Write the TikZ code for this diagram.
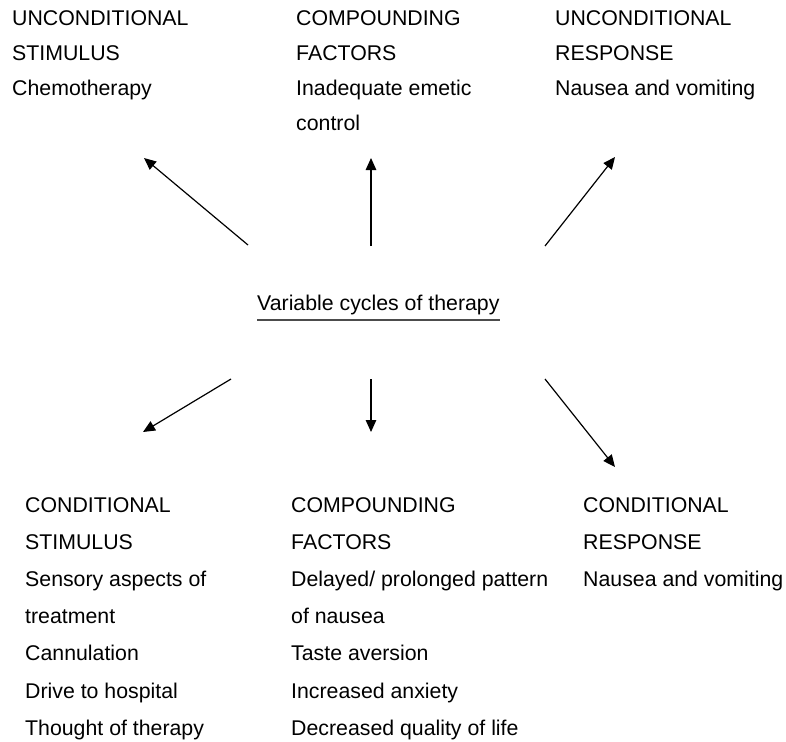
\documentclass[tikz,border=0pt]{standalone}
\usepackage{fontspec}
\setmainfont{Liberation Sans}
\usetikzlibrary{arrows.meta}

% multi-line text block; reference point = baseline of its first line
\newcommand{\linesblock}[1]{\parbox[t]{260pt}{\raggedright #1}}

\begin{document}
\begin{tikzpicture}[x=1pt,y=-1pt,
  topblock/.style={anchor=base west, inner sep=0pt, font={\fontsize{21.3}{34.7}\selectfont}},
  botblock/.style={anchor=base west, inner sep=0pt, font={\fontsize{21.3}{37.2}\selectfont}},
  centre/.style={anchor=base west, inner sep=0pt, font={\fontsize{21.3}{25}\selectfont}},
  arr/.style={line width=1.2pt, -{Triangle[length=12pt,width=10.5pt]}},
  uline/.style={line width=1.6pt, black!70}
]
\useasboundingbox (0,0) rectangle (786,741);

% upper row
\node[topblock] (us) at (12,26)  {\linesblock{UNCONDITIONAL\\STIMULUS\\Chemotherapy}};
\node[topblock] (cft) at (296,26) {\linesblock{COMPOUNDING\\FACTORS\\Inadequate emetic\\control}};
\node[topblock] (ur) at (555,26) {\linesblock{UNCONDITIONAL\\RESPONSE\\Nausea and vomiting}};

% centre
\node[centre] (cyc) at (257,310) {Variable cycles of therapy};
\draw[uline] ([yshift=-10pt]cyc.base west) -- ([yshift=-10pt]cyc.base east);

% lower row
\node[botblock] (cs) at (25,512) {\linesblock{CONDITIONAL\\STIMULUS\\Sensory aspects of\\treatment\\Cannulation\\Drive to hospital\\Thought of therapy}};
\node[botblock] (cfb) at (291,512) {\linesblock{COMPOUNDING\\FACTORS\\Delayed/ prolonged pattern\\of nausea\\Taste aversion\\Increased anxiety\\Decreased quality of life}};
\node[botblock] (cr) at (583,512) {\linesblock{CONDITIONAL\\RESPONSE\\Nausea and vomiting}};

% arrow ends
\coordinate (t1a) at (248,245);
\coordinate (t1b) at (144,158);
\coordinate (t2a) at (371,246);
\coordinate (t2b) at (371,158);
\coordinate (t3a) at (545,246);
\coordinate (t3b) at (615,157);
\coordinate (b1a) at (231,379);
\coordinate (b1b) at (143,432);
\coordinate (b2a) at (371,379);
\coordinate (b2b) at (371,432);
\coordinate (b3a) at (545,379);
\coordinate (b3b) at (615,467);

\draw[arr] (t1a) -- (t1b);
\draw[arr] (t2a) -- (t2b);
\draw[arr] (t3a) -- (t3b);
\draw[arr] (b1a) -- (b1b);
\draw[arr] (b2a) -- (b2b);
\draw[arr] (b3a) -- (b3b);
\end{tikzpicture}
\end{document}
